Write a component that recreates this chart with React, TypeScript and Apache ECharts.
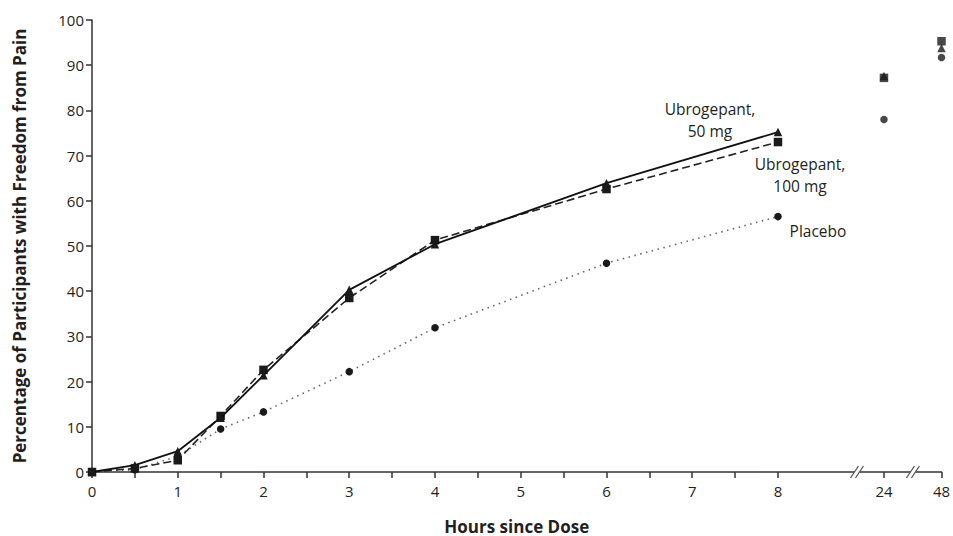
import React, { useEffect, useRef } from "react";
import * as echarts from "echarts";

// Data (hours since dose, % pain free)
const hours = [0, 0.5, 1, 1.5, 2, 3, 4, 6, 8];
const ubro50 = [0, 1.5, 4.6, 12, 21.4, 40.3, 50.4, 63.9, 75.2];
const ubro100 = [0, 0.8, 2.6, 12.4, 22.6, 38.5, 51.3, 62.6, 73];
const placebo = [0, 0.5, 3.5, 9.5, 13.3, 22.2, 31.9, 46.2, 56.5];

const lateHours = [24, 48];
const ubro50Late = [87.6, 93.8];
const ubro100Late = [87.2, 95.3];
const placeboLate = [78, 91.7];

const tickHours = [0, 0.5, 1, 1.5, 2, 2.5, 3, 3.5, 4, 4.5, 5, 5.5, 6, 6.5, 7, 7.5, 8, 24, 48];
const labelHours = [0, 1, 2, 3, 4, 5, 6, 7, 8, 24, 48];
const yTicks = [0, 10, 20, 30, 40, 50, 60, 70, 80, 90, 100];

// broken axis: positions on the axis for the late hours and the break marks
const brokenPos: Record<number, number> = { 24: 9.236, 48: 9.907 };
const breakMarks = [8.921, 9.574];
const pos = (h: number) => (h <= 8 ? h : brokenPos[h]);

const TEXT = "#231f20";
const FONT = "'Open Sans', 'Noto Sans', sans-serif";

export default function App() {
  const ref = useRef<HTMLDivElement>(null);
  useEffect(() => {
    if (!ref.current) return;
    const chart = echarts.init(ref.current, undefined, { renderer: "svg" });

    const lineData = (vals: number[], label?: any) =>
      hours.map((h, i) =>
        i === hours.length - 1 && label
          ? { value: [pos(h), vals[i]], label }
          : [pos(h), vals[i]]
      );
    const lateData = (vals: number[]) => lateHours.map((h, i) => [pos(h), vals[i]]);

    const annot = (text: string, offset: number[]) => ({
      show: true,
      position: "inside",
      formatter: text,
      offset,
      align: "center",
      verticalAlign: "middle",
      color: TEXT,
      fontFamily: FONT,
      fontSize: 15.5,
      lineHeight: 22,
    });

    chart.setOption({
      animation: false,
      textStyle: { fontFamily: FONT },
      grid: {
        left: 92,
        right: 11.5,
        top: 20,
        bottom: 64,
        containLabel: false,
        outerBoundsMode: "none",
      },
      xAxis: {
        type: "value",
        min: 0,
        max: brokenPos[48],
        splitLine: { show: false },
        axisLine: { lineStyle: { color: "#333", width: 1.5 } },
        axisTick: {
          show: true,
          length: 6,
          lineStyle: { color: "#333", width: 1.5 },
          customValues: tickHours.map(pos),
        },
        axisLabel: {
          customValues: labelHours.map(pos),
          formatter: (v: number) => {
            const i = labelHours.map(pos).findIndex((p) => Math.abs(p - v) < 1e-6);
            return i >= 0 ? String(labelHours[i]) : "";
          },
          color: TEXT,
          fontSize: 15,
          fontFamily: FONT,
          margin: 11,
        },
        name: "Hours since Dose",
        nameLocation: "middle",
        nameGap: 45,
        nameTextStyle: {
          color: TEXT,
          fontSize: 17,
          lineHeight: 18,
          fontWeight: "bold",
          fontFamily: FONT,
        },
      },
      yAxis: {
        type: "value",
        min: 0,
        max: 100,
        interval: 10,
        splitLine: { show: false },
        axisLine: { show: true, lineStyle: { color: "#333", width: 1.5 } },
        axisTick: { show: true, length: 6, lineStyle: { color: "#333", width: 1.5 } },
        axisLabel: {
          color: TEXT,
          fontSize: 15,
          fontFamily: FONT,
          margin: 8,
          customValues: yTicks,
        },
        name: "Percentage of Participants with Freedom from Pain",
        nameLocation: "middle",
        nameGap: 64,
        nameTextStyle: { color: TEXT, fontSize: 17, fontWeight: "bold", fontFamily: FONT },
      },
      series: [
        {
          name: "Placebo",
          type: "line",
          data: lineData(placebo, annot("Placebo", [40, 14])),
          symbol: "circle",
          symbolSize: 7.5,
          itemStyle: { color: "#1a1a1a" },
          lineStyle: { color: "#666", width: 1.6, type: [1.5, 4.5] },
          z: 2,
        },
        {
          name: "Ubrogepant, 100 mg",
          type: "line",
          data: lineData(ubro100, annot("Ubrogepant,\n100 mg", [22, 33])),
          symbol: "rect",
          symbolSize: 8.5,
          itemStyle: { color: "#1a1a1a" },
          lineStyle: { color: "#222", width: 1.6, type: [8, 4] },
          z: 3,
        },
        {
          name: "Ubrogepant, 50 mg",
          type: "line",
          data: lineData(ubro50, annot("Ubrogepant,\n50 mg", [-68, -12])),
          symbol: "triangle",
          symbolSize: 8.5,
          itemStyle: { color: "#1a1a1a" },
          lineStyle: { color: "#111", width: 1.8, type: "solid" },
          z: 4,
        },
        {
          type: "scatter",
          data: lateData(placeboLate),
          symbol: "circle",
          symbolSize: 7.5,
          itemStyle: { color: "#1a1a1a" },
          z: 2,
        },
        {
          type: "scatter",
          data: lateData(ubro50Late),
          symbol: "triangle",
          symbolSize: 8.5,
          itemStyle: { color: "#1a1a1a" },
          z: 3,
        },
        {
          type: "scatter",
          data: lateData(ubro100Late),
          symbol: "rect",
          symbolSize: 8.5,
          itemStyle: { color: "#1a1a1a" },
          z: 4,
        },
        {
          type: "custom",
          silent: true,
          clip: false,
          z: 10,
          data: breakMarks.map((b) => [b, 0]),
          renderItem: (params: any, api: any) => {
            const p = api.coord([api.value(0), 0]);
            const dx = 4;
            const dy = 6;
            const gap = 5;
            const x1 = p[0] - gap / 2;
            const x2 = p[0] + gap / 2;
            const cy = p[1];
            return {
              type: "group",
              children: [
                {
                  type: "polygon",
                  shape: {
                    points: [
                      [x1 - dx, cy + dy],
                      [x1 + dx, cy - dy],
                      [x2 + dx, cy - dy],
                      [x2 - dx, cy + dy],
                    ],
                  },
                  style: { fill: "#fff" },
                },
                {
                  type: "line",
                  shape: { x1: x1 - dx, y1: cy + dy, x2: x1 + dx, y2: cy - dy },
                  style: { stroke: "#555", lineWidth: 1.3 },
                },
                {
                  type: "line",
                  shape: { x1: x2 - dx, y1: cy + dy, x2: x2 + dx, y2: cy - dy },
                  style: { stroke: "#555", lineWidth: 1.3 },
                },
              ],
            };
          },
        },
      ],
    });
    return () => chart.dispose();
  }, []);

  return (
    <div
      ref={ref}
      style={{ position: "fixed", left: 0, top: 0, width: 953, height: 536, background: "#fff" }}
    />
  );
}
